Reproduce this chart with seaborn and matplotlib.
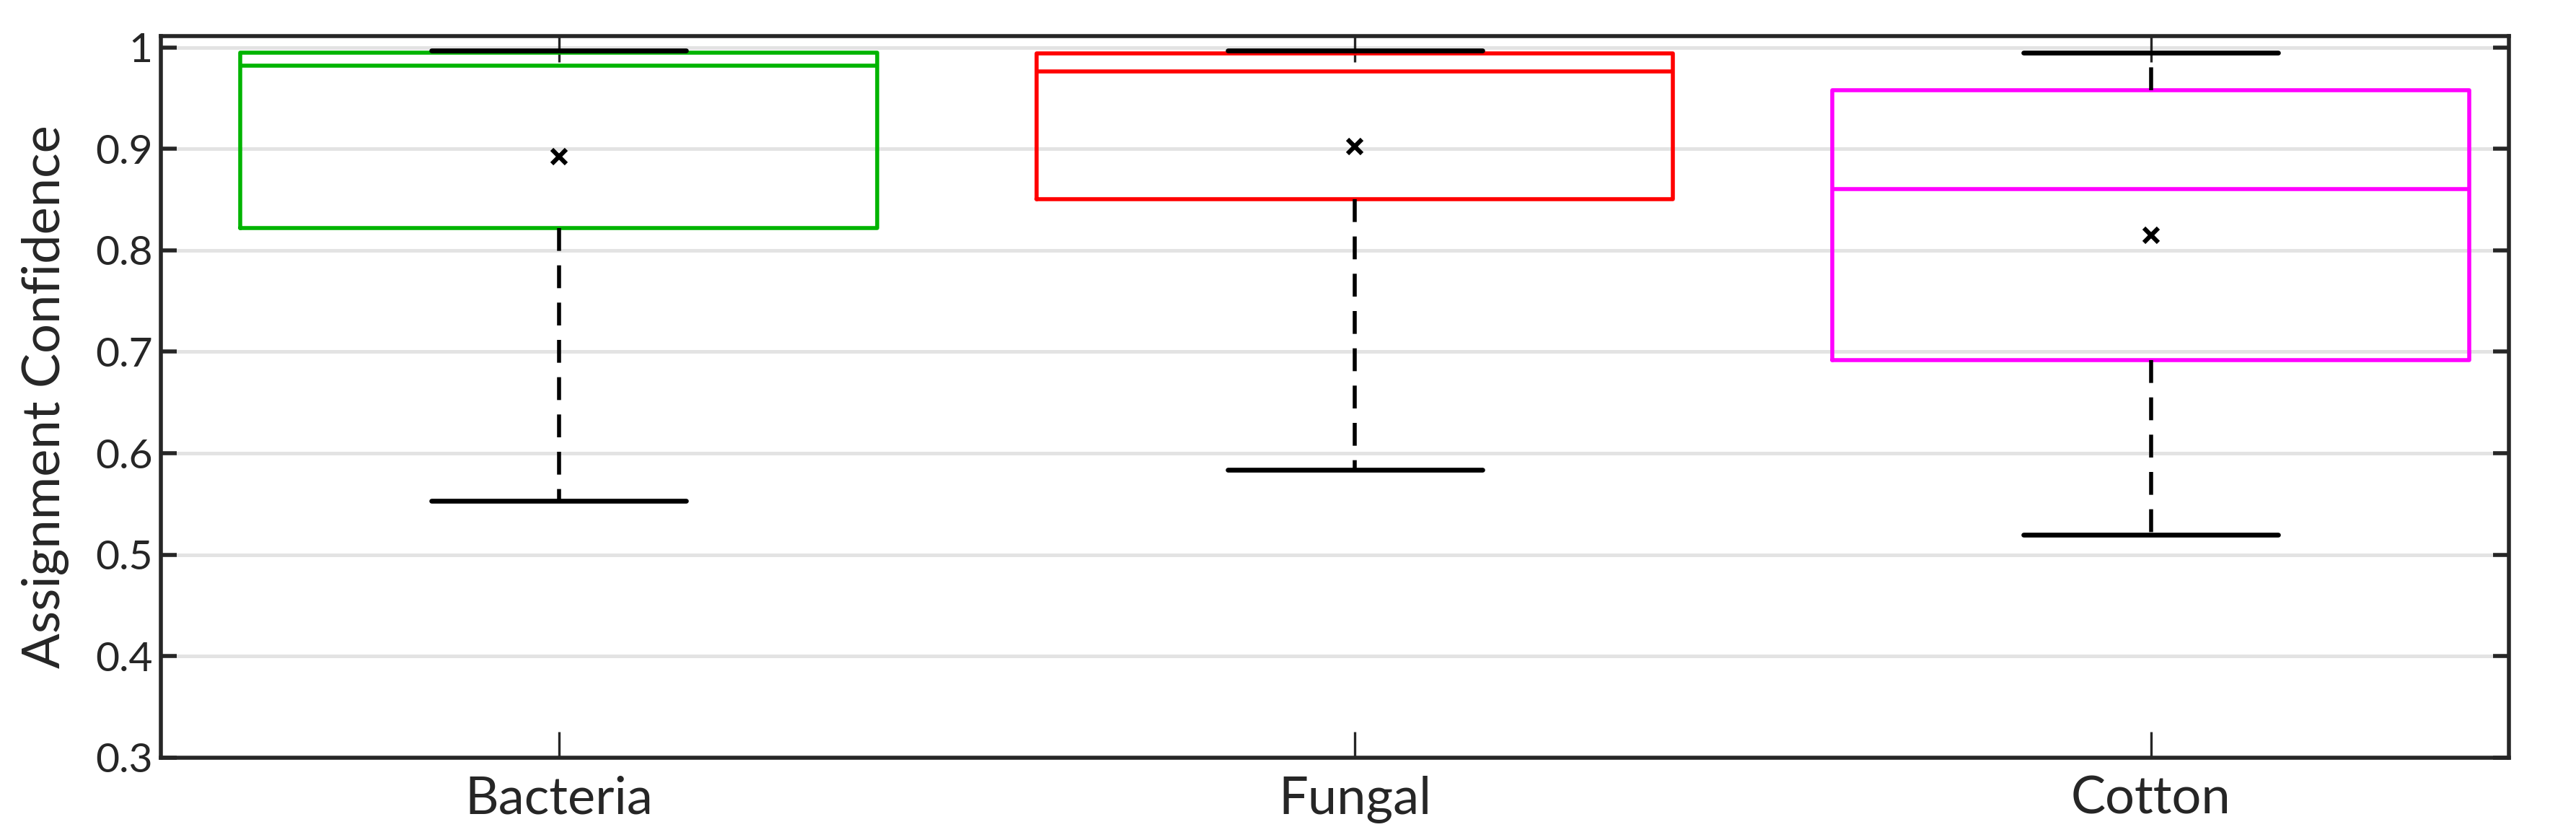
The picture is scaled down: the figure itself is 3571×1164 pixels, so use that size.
import numpy as np
import pandas as pd
import seaborn as sns
import matplotlib
matplotlib.use("Agg")
import matplotlib.pyplot as plt

categories = ["Bacteria", "Fungal", "Cotton"]
bacteria_vals = [0.553, 0.733, 0.822, 0.960, 0.982, 0.990, 0.995, 0.996, 0.997]
fungal_vals = [0.584, 0.786, 0.850, 0.950, 0.976, 0.985, 0.994, 0.996, 0.997]
cotton_vals = [0.520, 0.626, 0.692, 0.800, 0.860, 0.910, 0.958, 0.975, 0.995]
box_colors = ["#00b400", "#ff0000", "#ff00ff"]
y_ticks = [0.3, 0.4, 0.5, 0.6, 0.7, 0.8, 0.9, 1.0]
y_tick_labels = ["0.3", "0.4", "0.5", "0.6", "0.7", "0.8", "0.9", "1"]

df = pd.DataFrame({
    "group": np.repeat(categories, [len(bacteria_vals), len(fungal_vals), len(cotton_vals)]),
    "value": bacteria_vals + fungal_vals + cotton_vals,
})

sns.set_theme(style="white")
plt.rcParams["font.family"] = ["Lato", "DejaVu Sans"]

fig = plt.figure(figsize=(17.855, 5.82), dpi=200)
ax = fig.add_axes([0.0624, 0.098, 0.9116, 0.859])

for y in y_ticks[1:]:
    ax.axhline(y, color="#e3e3e3", lw=1.8, zorder=0)

sns.boxplot(
    data=df, x="group", y="value", hue="group", palette=box_colors,
    order=categories, hue_order=categories, legend=False,
    fill=False, whis=(0, 100), width=0.8, ax=ax, capwidths=0.32,
    linewidth=2.0,
    showmeans=True,
    meanprops=dict(marker="x", markeredgecolor="black", markersize=7.5, markeredgewidth=2.2),
    whiskerprops=dict(color="black", linestyle=(0, (5.7, 3.6)), linewidth=2.0),
    capprops=dict(color="black", linewidth=2.4, zorder=3),
)

ax.set_xlim(-0.5, 2.45)
ax.set_ylim(0.3, 1.011)
ax.set_yticks(y_ticks)
ax.set_yticklabels(y_tick_labels)
ax.set_xlabel("")
ax.set_ylabel("Assignment Confidence", fontsize=26, labelpad=13)

for s in ax.spines.values():
    s.set_visible(True)
    s.set_color("#262626")
    s.set_linewidth(2.0)

ax.tick_params(axis="y", direction="in", length=8, width=2.0, color="#262626",
               left=True, right=True, labelsize=20.5, pad=4)
ax.tick_params(axis="x", direction="in", length=13, width=1.2, color="#262626",
               bottom=True, top=True, labelsize=26, pad=9)

fig.savefig("out.png", dpi=200)
